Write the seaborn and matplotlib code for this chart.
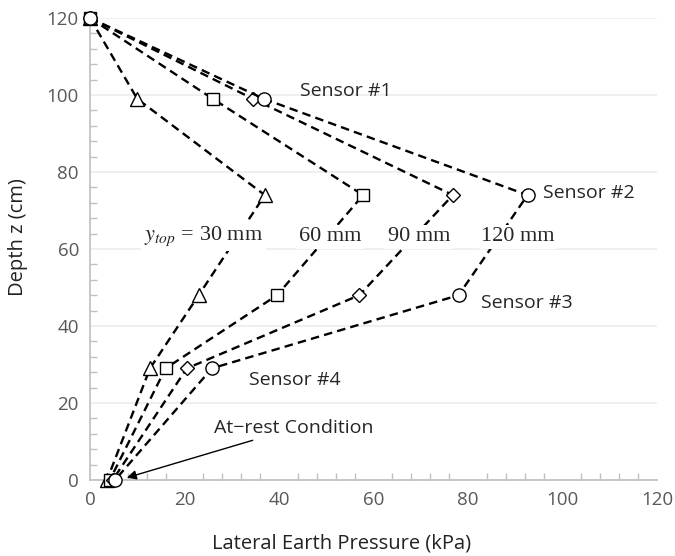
import matplotlib
matplotlib.use("Agg")
import matplotlib.pyplot as plt
import seaborn as sns
import pandas as pd
from matplotlib.ticker import MultipleLocator

depth = [120, 99, 74, 48, 29, 0]
p_30 = [0, 10, 37, 23, 12.7, 3.6]
p_60 = [0, 26, 57.8, 39.6, 16, 4.2]
p_90 = [0, 34.5, 76.8, 57, 20.5, 4.8]
p_120 = [0, 36.8, 92.6, 78, 25.8, 5.3]
series_names = ["30 mm", "60 mm", "90 mm", "120 mm"]
series_vals = [p_30, p_60, p_90, p_120]
series_markers = ["^", "s", "D", "o"]

sns.set_theme(style="white")
plt.rcParams['font.family'] = ['Open Sans', 'DejaVu Sans']

fig = plt.figure(figsize=(6.75, 5.56), dpi=100)
ax = fig.add_axes([90/675, 76/556, 567/675, 462/556])

sizes = {"^": 9.5, "s": 8.5, "D": 7.5, "o": 9.5}
for name, vals, mk in zip(series_names, series_vals, series_markers):
    df = pd.DataFrame({"p": vals, "z": depth})
    sns.lineplot(data=df, x="p", y="z", sort=False, estimator=None, ax=ax,
                 color="black", linestyle=(0, (3.6, 2.2)), linewidth=1.7,
                 marker=mk, markersize=sizes[mk], markerfacecolor="white",
                 markeredgecolor="black", markeredgewidth=1.0, clip_on=False,
                 zorder=3)

ax.set_xlim(0, 120)
ax.set_ylim(0, 120)
ax.xaxis.set_major_locator(MultipleLocator(20))
ax.yaxis.set_major_locator(MultipleLocator(20))
ax.xaxis.set_minor_locator(MultipleLocator(4))
ax.yaxis.set_minor_locator(MultipleLocator(4))
ax.grid(axis="y", which="major", color="#ececec", linewidth=1.2, zorder=0)
ax.set_axisbelow(True)
for s in ["top", "right"]:
    ax.spines[s].set_visible(False)
for s in ["left", "bottom"]:
    ax.spines[s].set_color("#bfbfbf")
    ax.spines[s].set_linewidth(1.2)
ax.tick_params(which="major", length=0, labelsize=13.5, labelcolor="#595959", pad=8)
ax.tick_params(which="minor", direction="in", length=5, color="#bfbfbf", width=1)
ax.tick_params(axis="x", which="minor", bottom=True)
ax.tick_params(axis="y", which="minor", left=True)

ax.set_xlabel("Lateral Earth Pressure (kPa)", fontsize=14.5, color="#222222")
ax.set_ylabel("Depth z (cm)", fontsize=14.5, color="#222222")
ax.xaxis.set_label_coords(0.444, -0.115)
ax.yaxis.set_label_coords(-0.109, 0.526)

tfs = 14
ax.text(44.5, 101, "Sensor #1", fontsize=tfs, va="center", ha="left")
ax.text(95.8, 74.5, "Sensor #2", fontsize=tfs, va="center", ha="left")
ax.text(82.7, 46, "Sensor #3", fontsize=tfs, va="center", ha="left")
ax.text(33.6, 26, "Sensor #4", fontsize=tfs, va="center", ha="left")
ax.annotate("At\u2212rest Condition", xy=(7.8, 0.6), xytext=(26.3, 13.5),
            fontsize=tfs, va="center", ha="left",
            arrowprops=dict(arrowstyle="-|>", color="black", lw=1, shrinkA=0, shrinkB=0,
                            mutation_scale=14),
            )

bb = dict(facecolor="white", edgecolor="none", pad=2)
mfs = 16
sf = ["Liberation Serif", "DejaVu Serif"]
ax.text(11.4, 63.2, r"$y_{top}$ = 30 mm", fontsize=mfs, va="center", ha="left",
        family=sf, bbox=bb, math_fontfamily="stix")
ax.text(44.3, 63.2, "60 mm", fontsize=mfs, va="center", ha="left", family=sf, bbox=bb)
ax.text(63, 63.2, "90 mm", fontsize=mfs, va="center", ha="left", family=sf, bbox=bb)
ax.text(82.8, 63.2, "120 mm", fontsize=mfs, va="center", ha="left", family=sf, bbox=bb)

fig.savefig("out.png", dpi=100)
